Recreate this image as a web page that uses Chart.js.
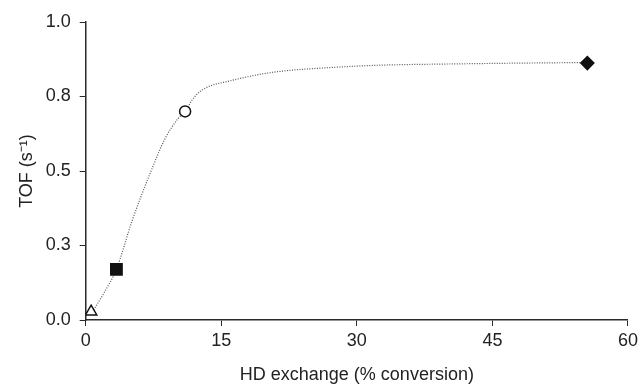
<!DOCTYPE html>
<html>
<head>
<meta charset="utf-8">
<script src="https://cdn.jsdelivr.net/npm/chart.js@4"></script>
<style>
  body { margin: 0; background: #fff; }
</style>
</head>
<body>
<canvas id="grafica" width="642" height="389"></canvas>
<script>
// measured points (HD exchange %, TOF)
const markerX = [0.6, 3.4, 11.0, 55.5];
const markerY = [0.028, 0.17, 0.70, 0.862];
const markerStyles = ['triangle', 'rect', 'circle', 'rectRot'];
const markerFill = ['#fff', '#111', '#fff', '#111'];

// fitted curve
const fitX = [0.6, 2.0, 3.4, 5.1, 7.1, 8.8, 10.2, 11.0, 11.7, 12.4, 13.5, 15.9, 18.5, 21.4, 27.0, 32.5, 40.0, 48.0, 55.5];
const fitY = [0.02, 0.09, 0.17, 0.33, 0.49, 0.61, 0.675, 0.70, 0.735, 0.76, 0.782, 0.802, 0.82, 0.834, 0.847, 0.855, 0.859, 0.862, 0.864];

const xTicks = [0, 15, 30, 45, 60];

const fitPts = fitX.map((x, i) => ({x: x, y: fitY[i]}));
const markPts = markerX.map((x, i) => ({x: x, y: markerY[i]}));

const axisCol = '#2a2a2a';
const txtFont = {family: 'Liberation Sans, Arial, sans-serif', size: 18};

const graph = document.querySelector('#grafica');

new Chart(graph, {
  type: 'scatter',
  data: {
    datasets: [{
      data: fitPts,
      order: 1,
      showLine: true,
      borderColor: '#555',
      borderWidth: 1.2,
      borderDash: [1, 1.5],
      cubicInterpolationMode: 'monotone',
      pointRadius: 0
    }, {
      data: markPts,
      order: 0,
      showLine: false,
      pointStyle: markerStyles,
      backgroundColor: markerFill,
      borderColor: '#111',
      borderWidth: 1.5,
      pointRadius: [6.5, 8, 5.5, 6.5]
    }]
  },
  options: {
    responsive: false,
    animation: false,
    layout: {padding: {top: 22, right: 12, left: 0, bottom: 0}},
    plugins: {legend: {display: false}, tooltip: {enabled: false}},
    scales: {
      x: {
        type: 'linear', min: 0, max: 60,
        afterBuildTicks: s => { s.ticks = xTicks.map(v => ({value: v})); },
        afterFit: s => { s.height = 69; },
        ticks: {color: '#222', font: txtFont, padding: 4, maxRotation: 0},
        grid: {drawOnChartArea: false, drawTicks: true, tickLength: 6, color: axisCol},
        border: {color: axisCol, width: 1.5},
        title: {display: true, text: 'HD exchange (% conversion)', color: '#222', font: txtFont, padding: {top: 4, bottom: 3}}
      },
      y: {
        min: 0, max: 1,
        ticks: {stepSize: 0.25, color: '#222', font: txtFont, padding: 9,
          callback: v => v.toFixed(1)},
        afterFit: s => { s.width = 85.7; },
        grid: {drawOnChartArea: false, drawTicks: true, tickLength: 6, color: axisCol},
        border: {color: axisCol, width: 1.5},
        title: {display: true, text: 'TOF (s\u207B\u00B9)', color: '#222', font: txtFont, padding: {top: 16, bottom: 0}}
      }
    }
  }
});
</script>
</body>
</html>
